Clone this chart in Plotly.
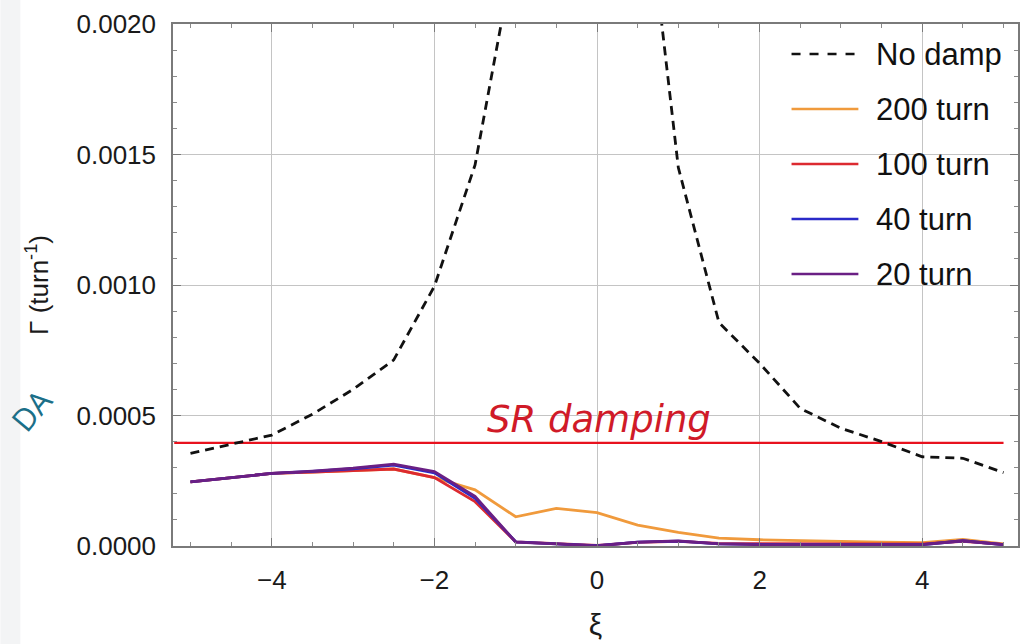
import plotly.graph_objects as go

# ---------------- data ----------------
xi = [-5, -4.5, -4, -3.5, -3, -2.5, -2, -1.5, -1, -0.5, 0, 0.5, 1, 1.5, 2, 2.5, 3, 3.5, 4, 4.5, 5]

no_damp = [0.000355, 0.000390, 0.000425, 0.000505, 0.000600, 0.000713, 0.000995, 0.00146,
           0.0023, 0.0040, 0.0060, 0.0028, 0.00145, 0.000856, 0.000700, 0.000527,
           0.000451, 0.000400, 0.000342, 0.000336, 0.000281]

turn200 = [0.000246, 0.000262, 0.000278, 0.000283, 0.000290, 0.000295, 0.000262, 0.000215,
           0.000112, 0.000144, 0.000128, 0.000080, 0.000052, 0.000030, 0.000024, 0.000020,
           0.000018, 0.000015, 0.000013, 0.000025, 0.000008]

turn100 = [0.000246, 0.000262, 0.000278, 0.000283, 0.000290, 0.000295, 0.000262, 0.000170,
           0.000016, 0.000008, 0.000002, 0.000014, 0.000018, 0.000010, 0.000009, 0.000008,
           0.000008, 0.000008, 0.000008, 0.000018, 0.000006]

turn40 = [0.000246, 0.000262, 0.000278, 0.000286, 0.000296, 0.000310, 0.000280, 0.000183,
          0.000016, 0.000008, 0.000001, 0.000015, 0.000019, 0.000008, 0.000006, 0.000005,
          0.000005, 0.000005, 0.000005, 0.000020, 0.000005]

turn20 = [0.000246, 0.000262, 0.000278, 0.000287, 0.000298, 0.000314, 0.000285, 0.000190,
          0.000015, 0.000008, 0.000000, 0.000015, 0.000020, 0.000008, 0.000005, 0.000005,
          0.000005, 0.000005, 0.000005, 0.000020, 0.000005]

sr_damping = 0.000395
sr_x = [-5.2, 5.0]

names = ["No damp", "200 turn", "100 turn", "40 turn", "20 turn"]
series = [no_damp, turn200, turn100, turn40, turn20]
colors = ["#111111", "#f09a3c", "#dc2a30", "#2a2ac8", "#6a1f84"]
dashes = ["9px,6px", "solid", "solid", "solid", "solid"]

x_ticks = [-4, -2, 0, 2, 4]
y_ticks = [0.0, 0.0005, 0.0010, 0.0015, 0.0020]

# ---------------- figure ----------------
W, H = 1020, 644
L, R, T, B = 173, 0, 24, 98
PW, PH = W - L - R, H - T - B

def px_to_paper(px, py):
    return (px - L) / PW, (H - B - py) / PH

fig = go.Figure()

# SR damping line
fig.add_trace(go.Scatter(x=sr_x, y=[sr_damping, sr_damping], mode="lines",
                         line=dict(color="#e8121e", width=2.2), showlegend=False,
                         hoverinfo="skip"))

# colored curves drawn bottom-up (200 first, 20 last), dashed on top
order = [1, 2, 3, 4, 0]
for i in order:
    fig.add_trace(go.Scatter(x=xi, y=series[i], mode="lines", name=names[i],
                             line=dict(color=colors[i], width=2.8, dash=dashes[i]),
                             showlegend=False))

shapes = []
annotations = []

# light slide band on the far left
bx0, by0 = px_to_paper(0, H)
bx1, by1 = px_to_paper(20, 0)
shapes.append(dict(type="rect", xref="paper", yref="paper", x0=bx0, x1=bx1, y0=by0, y1=by1,
                   fillcolor="#f3f4f5", line=dict(width=0), layer="below"))

# manual legend
leg_y = [54, 109, 164, 219, 274]
for k in range(len(names)):
    x0p, yp = px_to_paper(793, leg_y[k])
    x1p, _ = px_to_paper(860, leg_y[k])
    shapes.append(dict(type="line", xref="paper", yref="paper", x0=x0p, x1=x1p, y0=yp, y1=yp,
                       line=dict(color=colors[k], width=2.6,
                                 dash="dash" if dashes[k] != "solid" else "solid")))
    txp, _ = px_to_paper(876, leg_y[k])
    annotations.append(dict(xref="paper", yref="paper", x=txp, y=yp, text=names[k],
                            showarrow=False, xanchor="left", yanchor="middle",
                            font=dict(family="Liberation Sans, Arial, sans-serif",
                                      size=31, color="#111111")))

# SR damping label
annotations.append(dict(x=0.02, y=0.000483, xref="x", yref="y", text="<i>SR damping</i>",
                        showarrow=False, xanchor="center", yanchor="middle",
                        font=dict(family="DejaVu Sans, sans-serif", size=37, color="#d01a28")))

# slide text fragment at left edge
dax, day = px_to_paper(31, 410)
annotations.append(dict(xref="paper", yref="paper", x=dax, y=day, text="DA",
                        showarrow=False, textangle=-50, xanchor="center", yanchor="middle",
                        font=dict(family="Open Sans, sans-serif", size=31, color="#1b6f88")))

fig.update_layout(
    width=W, height=H,
    margin=dict(l=L, r=R, t=T, b=B, pad=0),
    paper_bgcolor="white", plot_bgcolor="white",
    shapes=shapes, annotations=annotations,
    showlegend=False,
    font=dict(family="Liberation Sans, Arial, sans-serif", color="#1a1a1a"),
    xaxis=dict(range=[-5.215, 5.178], tickvals=x_ticks, showgrid=True, gridcolor="#c4c4c4",
               gridwidth=1, zeroline=False, showline=True, linecolor="#7a7a7a", linewidth=1.5,
               mirror="allticks", ticks="inside", ticklen=8, tickcolor="#7a7a7a",
               tickfont=dict(size=26, color="#1a1a1a"), ticklabelstandoff=10,
               minor=dict(dtick=0.5, ticks="inside", ticklen=4, tickcolor="#8a8a8a", showgrid=False),
               title=dict(text="ξ", font=dict(size=30, color="#1a1a1a"), standoff=20)),
    yaxis=dict(range=[0, 0.002], tickvals=y_ticks, tickformat=".4f", showgrid=True,
               gridcolor="#c4c4c4", gridwidth=1, zeroline=False, showline=True,
               linecolor="#7a7a7a", linewidth=1.5, mirror="allticks", ticks="inside",
               ticklen=8, tickcolor="#7a7a7a", tickfont=dict(size=26, color="#1a1a1a"),
               ticklabelstandoff=10,
               minor=dict(dtick=0.0001, ticks="inside", ticklen=4, tickcolor="#8a8a8a", showgrid=False),
               title=dict(text="Γ (turn<sup>-1</sup>)", font=dict(size=26, color="#1a1a1a"),
                          standoff=20)),
)

fig.write_html("out.html")
